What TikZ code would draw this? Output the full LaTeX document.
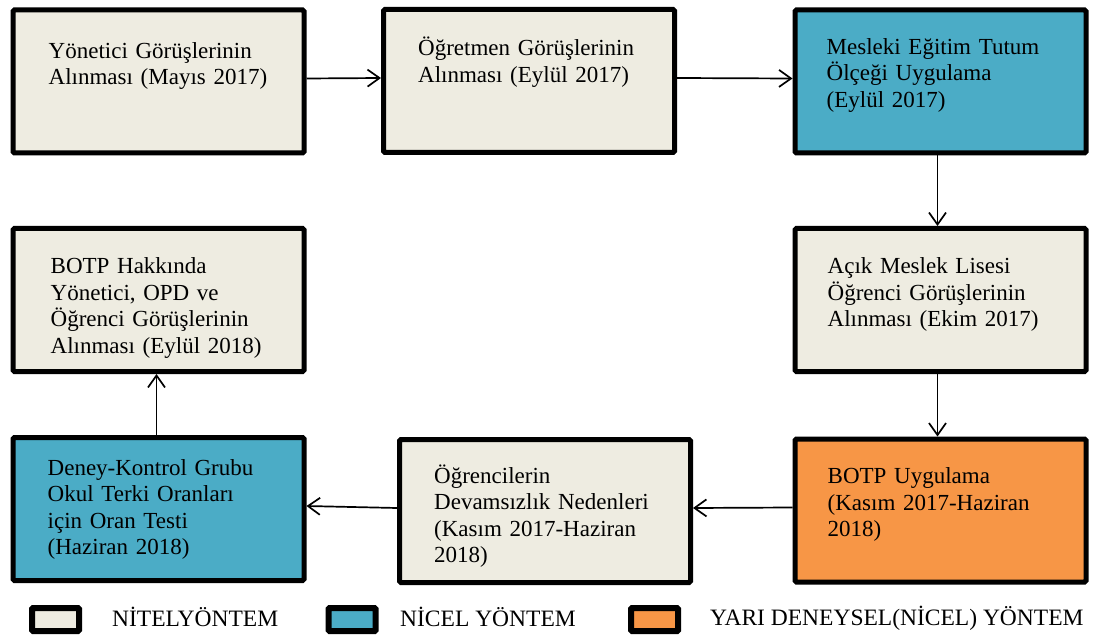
\documentclass[tikz,border=0pt]{standalone}
\usepackage{fontspec}
\setmainfont{Liberation Serif}
\usetikzlibrary{arrows.meta}

\definecolor{nitel}{HTML}{EEECE1}
\definecolor{nicel}{HTML}{4BACC6}
\definecolor{yari}{HTML}{F79646}

\begin{document}
\begin{tikzpicture}[x=1pt, y=-1pt, >={Straight Barb[length=12pt, width=17pt]},
    kutu/.style={draw, line width=5pt, rounded corners=1.5pt, minimum width=291pt, minimum height=143pt, inner sep=0pt},
    yazi/.style={anchor=base west, align=left, text width=260pt, inner sep=0pt, font=\fontsize{23}{26.5}\selectfont},
    isaret/.style={draw, line width=6pt, rounded corners=1pt, minimum width=47pt, minimum height=23pt, inner sep=0pt},
    ok/.style={->, line width=1.7pt}]
    \useasboundingbox (0,0) rectangle (1095,636);

    % kutular
    \node[kutu, fill=nitel] (b1) at (158.5,81.5) {};
    \node[kutu, fill=nitel] (b2) at (529,81) {};
    \node[kutu, fill=nicel] (b3) at (940.5,81.5) {};
    \node[kutu, fill=nitel] (b4) at (940.5,300) {};
    \node[kutu, fill=yari]  (b5) at (940.5,510.5) {};
    \node[kutu, fill=nitel] (b6) at (545,511) {};
    \node[kutu, fill=nicel] (b7) at (158.5,509) {};
    \node[kutu, fill=nitel] (b8) at (158.5,300) {};

    % metinler
    \node[yazi] (t1) at ([shift={(38,51)}]b1.north west) {Yönetici Görüşlerinin\\Alınması (Mayıs 2017)};
    \node[yazi] (t2) at ([shift={(37,49)}]b2.north west) {Öğretmen Görüşlerinin\\Alınması (Eylül 2017)};
    \node[yazi] (t3) at ([shift={(34,47)}]b3.north west) {Mesleki Eğitim Tutum\\Ölçeği Uygulama\\(Eylül 2017)};
    \node[yazi] (t4) at ([shift={(35,48)}]b4.north west) {Açık Meslek Lisesi\\Öğrenci Görüşlerinin\\Alınması (Ekim 2017)};
    \node[yazi] (t5) at ([shift={(35,47)}]b5.north west) {BOTP Uygulama\\(Kasım 2017-Haziran\\2018)};
    \node[yazi] (t6) at ([shift={(37,46)}]b6.north west) {Öğrencilerin\\Devamsızlık Nedenleri\\(Kasım 2017-Haziran\\2018)};
    \node[yazi] (t7) at ([shift={(37,40)}]b7.north west) {Deney-Kontrol Grubu\\Okul Terki Oranları\\için Oran Testi\\(Haziran 2018)};
    \node[yazi] (t8) at ([shift={(40,48)}]b8.north west) {BOTP Hakkında\\Yönetici, OPD ve\\Öğrenci Görüşlerinin\\Alınması (Eylül 2018)};

    % oklar
    \draw[ok] ([yshift=3pt]b1.east) -- ([yshift=3pt]b2.west);
    \draw[ok] ([yshift=3pt]b2.east) -- ([yshift=3pt]b3.west);
    \draw[ok] ([xshift=-3pt]b3.south) -- ([xshift=-3pt]b4.north);
    \draw[ok] ([xshift=-3pt]b4.south) -- ([xshift=-3pt]b5.north);
    \draw[ok] ([yshift=3pt]b5.west) -- ([yshift=3pt]b6.east);
    \draw[ok] ([yshift=3pt]b6.west) -- ([yshift=3pt]b7.east);
    \draw[ok] ([xshift=-2pt]b7.north) -- ([xshift=-2pt]b8.south);

    % lejant
    \node[isaret, fill=nitel] (l1) at (55.5,619.5) {};
    \node[isaret, fill=nicel] (l2) at (352,619.5) {};
    \node[isaret, fill=yari]  (l3) at (654.5,619.5) {};
    \node[yazi, text width=, font=\fontsize{23.5}{27}\selectfont] (lt1) at (112,626) {NİTELYÖNTEM};
    \node[yazi, text width=, font=\fontsize{23.5}{27}\selectfont] (lt2) at (400,626) {NİCEL YÖNTEM};
    \node[yazi, text width=, font=\fontsize{23.5}{27}\selectfont] (lt3) at (710,625) {YARI DENEYSEL(NİCEL) YÖNTEM};
\end{tikzpicture}
\end{document}
